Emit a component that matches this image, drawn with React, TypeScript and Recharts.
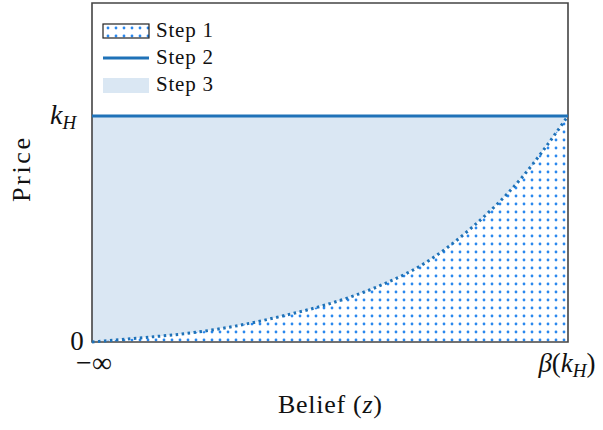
import { Area, ComposedChart, Line, ReferenceArea, XAxis, YAxis } from "recharts";

// belief grid (0 = -inf, 1 = beta(k_H)) and price
const beliefs = [0, 0.1, 0.2, 0.3, 0.4, 0.5, 0.6, 0.7, 0.8, 0.9, 1];
const step1Price = [0, 0.018, 0.038, 0.07, 0.115, 0.17, 0.245, 0.35, 0.51, 0.72, 1];
const kH = 1;
const xTicks = [0, 1];
const yTicks = [0, kH];

const data = beliefs.map((b, i) => ({
    b,
    curve: step1Price[i],
    band: [step1Price[i], kH],
    top: kH,
}));

const FONT = "Liberation Serif";
const DOT = "#2a88ee";
const DARK = "#1f72b8";
const LIGHT = "#dae7f3";

const YTick = (props: any) => {
    const { y, payload } = props;
    if (payload.value === 0) {
        return (
            <text x={77} y={y + 8} textAnchor="middle" fontFamily={FONT} fontSize={27} fill="#111">
                0
            </text>
        );
    }
    return (
        <text x={50} y={y + 8} fontFamily={FONT} fontSize={28} fill="#111">
            <tspan fontStyle="italic">k</tspan>
            <tspan fontStyle="italic" fontSize={19} dy={5}>H</tspan>
        </text>
    );
};

const XTick = (props: any) => {
    const { x, payload } = props;
    if (payload.value === 0) {
        return (
            <text x={x + 2} y={372} textAnchor="middle" fontFamily={FONT} fontSize={28} fill="#111">
                −∞
            </text>
        );
    }
    return (
        <text x={x - 1} y={372} textAnchor="middle" fontFamily={FONT} fontSize={27} fill="#111">
            <tspan fontStyle="italic">β</tspan>
            <tspan>(</tspan>
            <tspan fontStyle="italic">k</tspan>
            <tspan fontStyle="italic" fontSize={19} dy={5}>H</tspan>
            <tspan dy={-5}>)</tspan>
        </text>
    );
};

export default function App() {
    return (
        <div style={{ position: "absolute", left: 0, top: 0, width: 603, height: 430, background: "#fff" }}>
            <ComposedChart width={603} height={430} data={data} margin={{ top: 3, right: 35, bottom: 48, left: 0 }}>
                <defs>
                    <pattern id="dots" width="8" height="8" patternUnits="userSpaceOnUse">
                        <rect width="8" height="8" fill="#fff" />
                        <circle cx="4" cy="4" r="1.4" fill={DOT} />
                    </pattern>
                </defs>
                <XAxis
                    dataKey="b"
                    type="number"
                    domain={[0, 1]}
                    ticks={xTicks}
                    height={40}
                    axisLine={false}
                    tickLine={false}
                    tick={<XTick />}
                    interval={0}
                />
                <YAxis
                    type="number"
                    domain={[0, 1.5]}
                    ticks={yTicks}
                    width={92}
                    axisLine={false}
                    tickLine={false}
                    tick={<YTick />}
                    interval={0}
                />
                <Area
                    type="monotone"
                    dataKey="band"
                    fill={LIGHT}
                    fillOpacity={1}
                    stroke="none"
                    isAnimationActive={false}
                />
                <Area
                    type="monotone"
                    dataKey="curve"
                    fill="url(#dots)"
                    fillOpacity={1}
                    stroke="none"
                    isAnimationActive={false}
                />
                <Line
                    type="monotone"
                    dataKey="curve"
                    stroke={DARK}
                    strokeWidth={3}
                    strokeDasharray="2.5 3.5"
                    dot={false}
                    isAnimationActive={false}
                />
                <Line
                    type="monotone"
                    dataKey="top"
                    stroke={DARK}
                    strokeWidth={2.8}
                    dot={false}
                    isAnimationActive={false}
                />
                <ReferenceArea
                    x1={0}
                    x2={1}
                    y1={0}
                    y2={1.5}
                    fill="none"
                    stroke="#444"
                    strokeWidth={1.6}
                    ifOverflow="visible"
                />
            </ComposedChart>
            <svg
                width={603}
                height={430}
                style={{ position: "absolute", left: 0, top: 0, pointerEvents: "none" }}
                fontFamily={FONT}
            >
                {/* legend */}
                <rect x={103} y={24} width={46} height={14} fill="url(#dots)" stroke="#222" strokeWidth={1.2} />
                <text x={156} y={37} fontSize={21} fill="#111" textLength={57} lengthAdjust="spacing">Step 1</text>
                <line x1={103} x2={149} y1={58} y2={58} stroke={DARK} strokeWidth={2.8} />
                <text x={156} y={64} fontSize={21} fill="#111" textLength={57} lengthAdjust="spacing">Step 2</text>
                <rect x={103} y={78} width={46} height={15} fill={LIGHT} />
                <text x={156} y={91} fontSize={21} fill="#111" textLength={57} lengthAdjust="spacing">Step 3</text>
                {/* axis titles */}
                <text
                    x={0}
                    y={0}
                    transform="translate(30 170) rotate(-90)"
                    textAnchor="middle"
                    fontSize={26}
                    fill="#111"
                    textLength={64}
                    lengthAdjust="spacing"
                >
                    Price
                </text>
                <text x={278} y={413} fontSize={26} fill="#111" textLength={104} lengthAdjust="spacing">
                    Belief (<tspan fontStyle="italic">z</tspan>)
                </text>
            </svg>
        </div>
    );
}
